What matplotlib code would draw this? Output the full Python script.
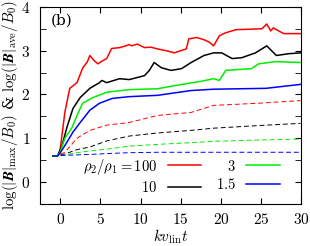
import numpy as np
from matplotlib import pyplot as plt
from matplotlib.ticker import MultipleLocator, FuncFormatter

plt.rcParams['font.family'] = 'serif'
plt.rcParams['font.serif'] = ['DejaVu Serif']
plt.rcParams['mathtext.fontset'] = 'cm'

# Max field curves (solid)
t_red = [-0.9, -0.3, 0.0, 0.6, 1.2, 2.1, 2.8, 3.4, 3.7, 4.2, 4.7, 5.2, 5.8, 6.4, 7.4, 8.0, 8.6, 8.9, 9.6, 10.5, 11.3, 12.1, 13.2, 14.2, 15.0, 15.7, 16.0, 17.0, 17.9, 18.5, 19.1, 19.8, 20.6, 21.9, 23.5, 25.1, 25.7, 26.2, 26.5, 27.2, 27.8, 29.9]
red_max = [0.6, 0.6, 0.73, 1.6, 2.14, 2.27, 2.6, 2.75, 2.89, 2.78, 2.7, 2.76, 2.82, 3.05, 3.07, 3.1, 3.14, 3.11, 3.15, 3.07, 3.08, 3.04, 3.0, 2.95, 3.0, 3.04, 3.27, 3.30, 3.25, 3.2, 3.11, 3.34, 3.41, 3.48, 3.49, 3.5, 3.61, 3.45, 3.52, 3.45, 3.39, 3.39]

t_black = [-0.9, -0.3, 0.25, 0.85, 1.6, 2.5, 3.7, 4.9, 5.2, 5.8, 7.4, 8.6, 10.5, 11.1, 11.7, 12.6, 13.8, 15.1, 16.3, 17.9, 19.1, 20.1, 21.4, 22.6, 24.3, 25.7, 26.9, 28.4, 29.9]
black_max = [0.6, 0.6, 0.84, 1.25, 1.68, 1.93, 2.14, 2.27, 2.32, 2.27, 2.36, 2.34, 2.43, 2.55, 2.73, 2.61, 2.55, 2.59, 2.73, 2.89, 2.95, 2.95, 2.82, 2.84, 2.95, 3.11, 2.89, 2.93, 2.95]

t_green = [-0.9, -0.3, 0.0, 0.6, 1.5, 2.1, 2.8, 4.1, 5.8, 8.6, 12.1, 14.2, 17.5, 19.1, 19.8, 20.6, 23.8, 24.7, 26.8, 29.9]
green_max = [0.6, 0.6, 0.68, 1.0, 1.25, 1.52, 1.8, 1.93, 2.05, 2.11, 2.13, 2.2, 2.3, 2.36, 2.32, 2.55, 2.59, 2.7, 2.75, 2.73]

t_blue = [-0.9, -0.3, 0.0, 0.85, 1.6, 2.5, 3.7, 4.9, 6.5, 8.6, 12.1, 16.3, 19.1, 25.6, 29.9]
blue_max = [0.6, 0.6, 0.66, 0.91, 1.14, 1.36, 1.64, 1.8, 1.91, 1.95, 1.98, 2.09, 2.12, 2.14, 2.23]

# Average field curves (dashed)
t_ave = [-0.9, -0.3, 0.6, 2.1, 3.7, 5.8, 8.6, 12.1, 16.3, 19.1, 24.7, 29.9]
red_ave = [0.6, 0.6, 0.68, 1.0, 1.18, 1.3, 1.36, 1.52, 1.59, 1.75, 1.8, 1.86]
black_ave = [0.6, 0.6, 0.64, 0.74, 0.8, 0.94, 1.05, 1.12, 1.18, 1.23, 1.29, 1.34]
green_ave = [0.6, 0.6, 0.62, 0.67, 0.71, 0.75, 0.82, 0.86, 0.9, 0.93, 0.96, 0.98]
blue_ave = [0.6, 0.6, 0.61, 0.62, 0.63, 0.65, 0.67, 0.68, 0.68, 0.68, 0.68, 0.68]

labels = [r'$\rho_2/\rho_1 = 100$', r'$10$', r'$3$', r'$1.5$']
colors = ['#ff0000', 'black', '#00ee00', '#0000ff']


# Wrap tick numbers in mathtext
def math_fmt(v, pos):
    return r'$%g$' % v


fig = plt.figure(figsize=(3.1, 2.46), dpi=100)
ax = fig.add_axes([0.129, 0.171, 0.843, 0.801])

# Solid lines: max field
maxes = [(t_red, red_max), (t_black, black_max), (t_green, green_max), (t_blue, blue_max)]
handles = []
for (t, y), c in zip(maxes, colors):
    h, = ax.plot(t, y, color=c, lw=1.1)
    handles.append(h)

# Dashed lines: average field
for y, c in zip([red_ave, black_ave, green_ave, blue_ave], colors):
    ax.plot(t_ave, y, color=c, lw=0.7, ls=(0, (5, 3)))

ax.set_xlim(-2.5, 30)
ax.set_ylim(-0.5, 4)
ax.xaxis.set_major_locator(MultipleLocator(5))
ax.yaxis.set_major_locator(MultipleLocator(1))
ax.yaxis.set_minor_locator(MultipleLocator(0.5))
ax.xaxis.set_major_formatter(FuncFormatter(math_fmt))
ax.yaxis.set_major_formatter(FuncFormatter(math_fmt))
ax.tick_params(which='both', direction='in', top=True, right=True, labelsize=11)
ax.tick_params(axis='x', pad=6)
ax.tick_params(axis='y', pad=7)
ax.tick_params(which='major', length=4)
ax.tick_params(which='minor', length=4)

ax.set_xlabel(r'$kv_{\rm lin}t$', fontsize=11, labelpad=0)
ax.set_ylabel(r'$\log(|\boldsymbol{B}|_{\rm max}/B_0)$ & $\log(|\boldsymbol{B}|_{\rm ave}/B_0)$', fontsize=10.8, labelpad=1)
ax.text(0.04, 0.93, '(b)', transform=ax.transAxes, fontsize=11, va='center')

# Legend: two columns, label before line
order = [handles[0], handles[1], handles[2], handles[3]]
ax.legend(order, labels, ncol=2, loc='lower right', frameon=False, markerfirst=False,
          fontsize=10.5, handlelength=2.3, columnspacing=1.0, labelspacing=0.25,
          handletextpad=0.7, borderaxespad=0.2, bbox_to_anchor=(0.95, 0.0))

fig.savefig('out.png')
